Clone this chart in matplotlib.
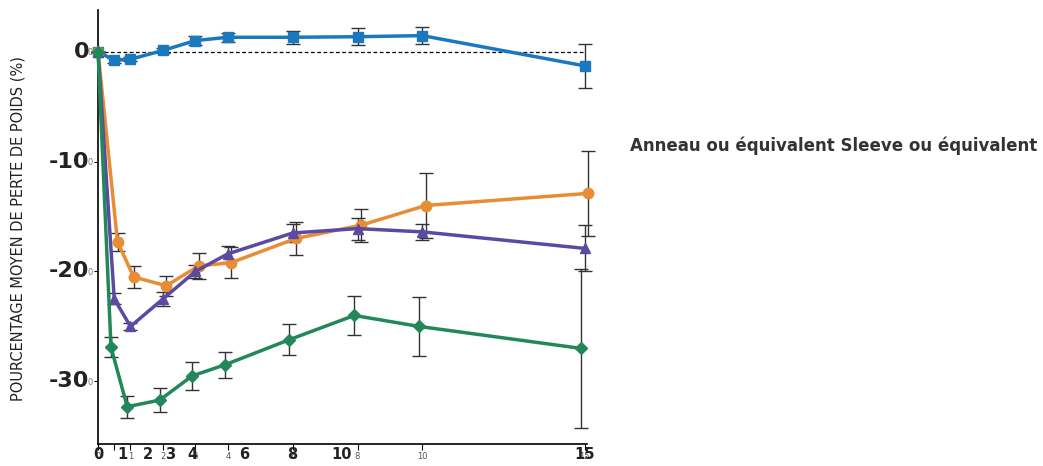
import numpy as np
import matplotlib
matplotlib.use("Agg")
import matplotlib.pyplot as plt
from matplotlib import font_manager

# ── Data ──────────────────────────────────────────────────────────────────────

years = [0, 0.5, 1, 2, 3, 4, 6, 8, 10, 15]

controle     = [0, -0.8, -0.7, 0.1, 1.0, 1.3, 1.3, 1.35, 1.45, -1.3]
controle_err = [0, 0.2, 0.2, 0.2, 0.4, 0.4, 0.6, 0.75, 0.8, 2.0]

anneau     = [0, -17.3, -20.5, -21.3, -19.5, -19.2, -17.0, -15.8, -14.0, -12.9]
anneau_err = [0, 0.8, 1.0, 0.9, 1.2, 1.4, 1.5, 1.5, 3.0, 3.9]

sleeve     = [0, -22.5, -25.0, -22.5, -20.0, -18.4, -16.5, -16.1, -16.4, -17.9]
sleeve_err = [0, 0.5, 0.3, 0.6, 0.6, 0.7, 0.8, 1.0, 0.7, 2.1]

bypass     = [0, -26.9, -32.3, -31.7, -29.5, -28.5, -26.2, -24.0, -25.0, -27.0]
bypass_err = [0, 0.9, 1.0, 1.1, 1.3, 1.2, 1.4, 1.8, 2.7, 7.2]

small_xlabels = ["0", "", "1", "2", "3", "4", "6", "8", "10", "15"]
bold_xlabels  = ["0", "1", "2", "3", "4", "6", "8", "10", "15"]
bold_xpos     = [0, 0.74, 1.54, 2.22, 2.92, 4.52, 6.0, 7.5, 15]

yticks = [0, -10, -20, -30]
ylabel = "POURCENTAGE MOYEN DE PERTE DE POIDS (%)"
legend_text = "Anneau ou équivalent Sleeve ou équivalent"

# ── Fonts ─────────────────────────────────────────────────────────────────────

names = {f.name for f in font_manager.fontManager.ttflist}
narrow = "Liberation Sans Narrow" if "Liberation Sans Narrow" in names else "DejaVu Sans"

# ── Figure ────────────────────────────────────────────────────────────────────

fig = plt.figure(figsize=(10.43, 4.66), dpi=100)
ax = fig.add_axes([0.094, 0.047, 0.469, 0.932])

series = [
    (controle, controle_err, "#1a78bf", "s", 0.0),
    (anneau,   anneau_err,   "#e88d35", "o", 0.1),
    (sleeve,   sleeve_err,   "#5a4aa2", "^", 0.0),
    (bypass,   bypass_err,   "#22885a", "D", -0.1),
]

ax.plot([0, 15], [0, 0], "k--", lw=0.9, dashes=(3, 2), zorder=1)

for vals, errs, color, marker, dx in series:
    xs = np.array(years) + np.where(np.array(years) > 0, dx, 0)
    ax.errorbar(xs, vals, yerr=errs, fmt="none", ecolor="#333333",
                elinewidth=1.0, capsize=5, capthick=1.0, zorder=2, clip_on=False)
    ax.plot(xs, vals, color=color, lw=2.5, marker=marker,
            markersize=7.5 if marker != "D" else 6.5, zorder=3, clip_on=False)

ax.set_xlim(0, 15.08)
ax.set_ylim(-35.7, 3.8)

for s in ["top", "right"]:
    ax.spines[s].set_visible(False)
ax.spines["left"].set_linewidth(1.2)
ax.spines["bottom"].set_linewidth(1.2)

# small grey tick labels
ax.set_xticks(years)
ax.set_xticklabels(small_xlabels, fontsize=6, color="#555555")
ax.set_yticks(yticks)
ax.set_yticklabels(["0"] * len(yticks), fontsize=6, color="#777777")
ax.tick_params(axis="x", length=4, width=0.8, pad=2)
ax.tick_params(axis="y", length=3, width=0.8, pad=1)

# bold overlaid tick labels
for x, lab in zip(bold_xpos, bold_xlabels):
    ax.text(x, -0.006, lab, transform=ax.get_xaxis_transform(),
            ha="center", va="top", fontsize=10.5, fontweight="bold",
            family=narrow, color="#222222", clip_on=False)
for y in yticks:
    ax.text(-0.018, y, f"{y}", transform=ax.get_yaxis_transform(),
            ha="right", va="center", fontsize=16, fontweight="bold",
            family=narrow, color="#222222", clip_on=False)

fig.text(0.017, 0.51, ylabel, rotation=90, ha="center", va="center",
         fontsize=10.5, family=narrow, color="#222222")

fig.text(0.604, 0.688, legend_text, ha="left", va="center",
         fontsize=12, fontweight="bold", color="#333333")

fig.savefig("out.png", dpi=100)
